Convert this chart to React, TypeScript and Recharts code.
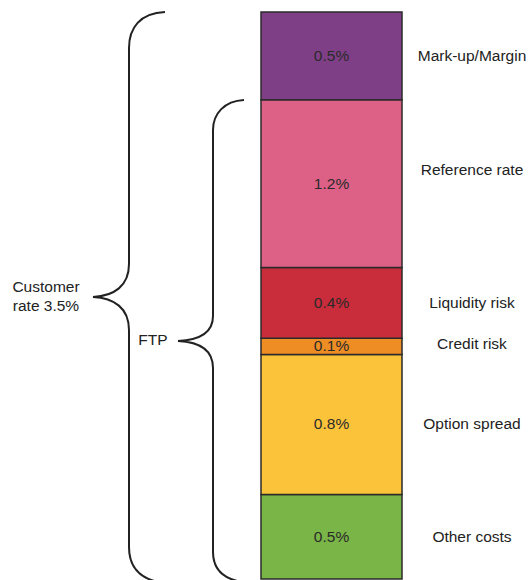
import { BarChart, Bar, XAxis, YAxis, LabelList, Customized } from "recharts";

// bottom to top, as stacked in the bar
const components = ["Other costs", "Option spread", "Credit risk", "Liquidity risk", "Reference rate", "Mark-up/Margin"];
const statedRate = [0.5, 0.8, 0.1, 0.4, 1.2, 0.5];
// segment heights as drawn in the picture (not to scale with the stated rates)
const drawnHeight = [0.52, 0.86, 0.1, 0.435, 1.03, 0.54];
const customerRate = 3.5;

const colors = ["#7ab547", "#fbc33a", "#ee8d24", "#c92c3b", "#dd6187", "#7f3f86"];
const labelNudge: Record<string, number> = { "Reference rate": -14, "Credit risk": -2 };

const row: Record<string, number | string> = { name: "rate" };
components.forEach((c, i) => {
  row[`s${i}`] = drawnHeight[i];
});
const data = [row];
const total = drawnHeight.reduce((a, b) => a + b, 0);

const FONT = "Liberation Sans, Arial, sans-serif";
const FS = 15.5;

function Braces() {
  return (
    <g fill="none" stroke="#222" strokeWidth={2}>
      <path d="M165,12 C140,13 129,28 129,48 L129,264 C129,286 114,296 93,297 C114,298 129,308 129,330 L129,547 C129,567 140,578 158,582" />
      <path d="M244,100 C224,101 213,114 213,130 L213,316 C213,332 200,340 178,341 C200,342 213,350 213,368 L213,552 C213,570 224,579 242,582" />
      <g stroke="none" fill="#222" fontFamily={FONT} fontSize={FS} textAnchor="middle">
        <text x={46} y={292}>Customer</text>
        <text x={46} y={311}>{`rate ${customerRate}%`}</text>
        <text x={153} y={345}>FTP</text>
      </g>
    </g>
  );
}

export default function App() {
  return (
    <div style={{ position: "absolute", left: 0, top: 0, background: "#fff" }}>
      <BarChart
        width={529}
        height={580}
        data={data}
        margin={{ top: 12, right: 127, left: 261, bottom: 1 }}
        barCategoryGap={0}
      >
        <XAxis dataKey="name" hide />
        <YAxis hide domain={[0, total]} />
        {components.map((c, i) => (
          <Bar
            key={c}
            dataKey={`s${i}`}
            stackId="a"
            fill={colors[i]}
            stroke="#2b2b2b"
            strokeWidth={1.5}
            isAnimationActive={false}
          >
            <LabelList
              dataKey={`s${i}`}
              content={(p: any) => (
                <text
                  x={p.x + p.width / 2}
                  y={p.y + p.height / 2 + 5}
                  textAnchor="middle"
                  fontFamily={FONT}
                  fontSize={FS}
                  fill="#2a2a2a"
                >
                  {`${statedRate[i]}%`}
                </text>
              )}
            />
            <LabelList
              dataKey={`s${i}`}
              content={(p: any) => (
                <text
                  x={p.x + p.width + 70}
                  y={p.y + p.height / 2 + 5 + (labelNudge[c] || 0)}
                  textAnchor="middle"
                  fontFamily={FONT}
                  fontSize={FS}
                  fill="#222"
                >
                  {c}
                </text>
              )}
            />
          </Bar>
        ))}
        <Customized component={<Braces />} />
      </BarChart>
    </div>
  );
}
